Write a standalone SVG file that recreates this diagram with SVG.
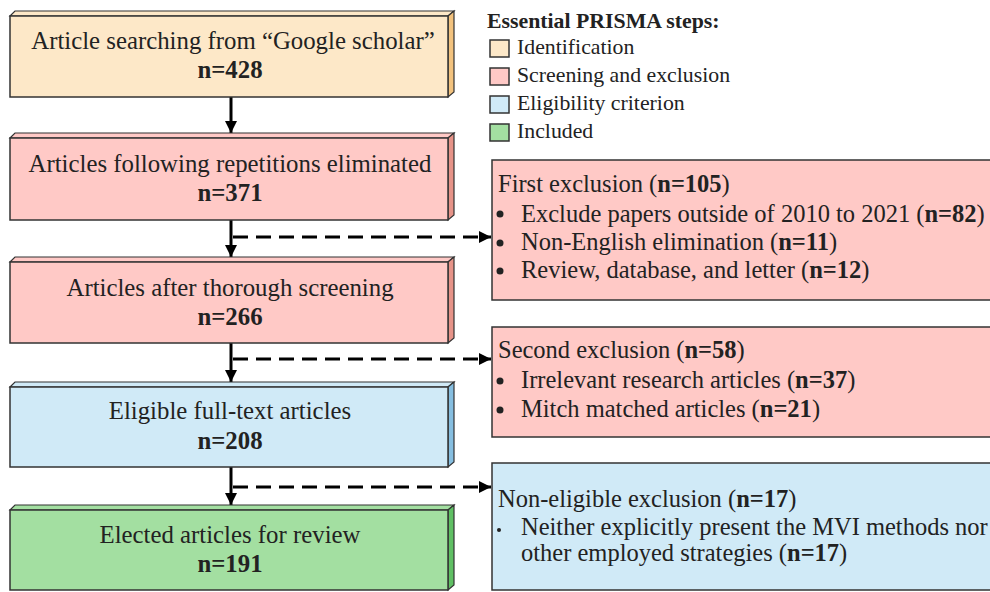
<svg xmlns="http://www.w3.org/2000/svg" width="990" height="592" viewBox="0 0 990 592">
<defs>
<style>
text{font-family:"Liberation Serif","Times New Roman",serif;fill:#222}
.t{font-size:24.8px;text-anchor:middle}
.b{font-weight:bold}
.r{font-size:24.5px}
.l{font-size:21.8px}
.front{stroke:#333;stroke-width:1.5}
.edge{stroke:#333;stroke-width:1.2}
.side{stroke:#333;stroke-width:1.2}
.solid{stroke:#000;stroke-width:3;fill:none}
.dash{stroke:#000;stroke-width:3;fill:none;stroke-dasharray:15 8}
.ident{fill:#FDE8C8}.identS{fill:#F2C27E}
.scr{fill:#FFC9C6}.scrS{fill:#E69388}
.elig{fill:#D0EAF7}.eligS{fill:#86BEE0}
.inc{fill:#A3DFA1}.incS{fill:#5FBF63}
.lg{stroke:#333;stroke-width:1.5}
</style>
<marker id="ah" viewBox="0 0 10 10" refX="10" refY="5" markerWidth="4" markerHeight="4" orient="auto" markerUnits="strokeWidth">
<path d="M0,0 L10,5 L0,10 z" fill="#000"/>
</marker>
</defs>

<g id="connectors">
<line class="solid" x1="231" y1="97" x2="231" y2="133" marker-end="url(#ah)"/>
<line class="solid" x1="231" y1="220" x2="231" y2="257" marker-end="url(#ah)"/>
<line class="solid" x1="231" y1="343" x2="231" y2="382" marker-end="url(#ah)"/>
<line class="solid" x1="231" y1="467" x2="231" y2="505" marker-end="url(#ah)"/>
<line class="dash" x1="233" y1="237" x2="491" y2="237" marker-end="url(#ah)"/>
<line class="dash" x1="233" y1="359" x2="491" y2="359" marker-end="url(#ah)"/>
<line class="dash" x1="233" y1="487" x2="491" y2="487" marker-end="url(#ah)"/>
</g>

<g id="n1">
<path class="ident edge" d="M10,16 L15,11 L454,11 L448,16 Z"/>
<path class="identS side" d="M448,16 L454,11 L454,92 L448,97 Z"/>
<rect class="ident front" x="10" y="16" width="438" height="81"/>
<text class="t" x="233" y="49">Article searching from “Google scholar”</text>
<text class="t b" x="230" y="78">n=428</text>
</g>

<g id="n2">
<path class="scr edge" d="M10,138 L15,133 L454,133 L448,138 Z"/>
<path class="scrS side" d="M448,138 L454,133 L454,215 L448,220 Z"/>
<rect class="scr front" x="10" y="138" width="438" height="82"/>
<text class="t" x="230" y="172">Articles following repetitions eliminated</text>
<text class="t b" x="230" y="201">n=371</text>
</g>

<g id="n3">
<path class="scr edge" d="M10,262 L15,257 L454,257 L448,262 Z"/>
<path class="scrS side" d="M448,262 L454,257 L454,338 L448,343 Z"/>
<rect class="scr front" x="10" y="262" width="438" height="81"/>
<text class="t" x="230" y="296">Articles after thorough screening</text>
<text class="t b" x="230" y="325">n=266</text>
</g>

<g id="n4">
<path class="elig edge" d="M10,387 L15,382 L454,382 L448,387 Z"/>
<path class="eligS side" d="M448,387 L454,382 L454,462 L448,467 Z"/>
<rect class="elig front" x="10" y="387" width="438" height="80"/>
<text class="t" x="230" y="419">Eligible full-text articles</text>
<text class="t b" x="230" y="449">n=208</text>
</g>

<g id="n5">
<path class="inc edge" d="M10,510 L15,505 L454,505 L448,510 Z"/>
<path class="incS side" d="M448,510 L454,505 L454,585 L448,590 Z"/>
<rect class="inc front" x="10" y="510" width="438" height="80"/>
<text class="t" x="230" y="543">Elected articles for review</text>
<text class="t b" x="230" y="572">n=191</text>
</g>

<g id="legend">
<text class="l b" x="487" y="28">Essential PRISMA steps:</text>
<rect class="ident lg" x="490" y="40" width="19" height="17"/>
<text class="l" x="517" y="54">Identification</text>
<rect class="scr lg" x="490" y="68" width="19" height="17"/>
<text class="l" x="517" y="82">Screening and exclusion</text>
<rect class="elig lg" x="490" y="96" width="19" height="17"/>
<text class="l" x="517" y="110">Eligibility criterion</text>
<rect class="inc lg" x="490" y="124" width="19" height="17"/>
<text class="l" x="517" y="138">Included</text>
</g>

<g id="r1">
<rect class="scr front" x="492" y="160" width="510" height="140"/>
<text class="r" x="498" y="192">First exclusion (<tspan class="b">n=105</tspan>)</text>
<circle cx="500" cy="214" r="3.5" fill="#222"/>
<text class="r" x="521" y="222">Exclude papers outside of 2010 to 2021 (<tspan class="b">n=82</tspan>)</text>
<circle cx="500" cy="243" r="3.5" fill="#222"/>
<text class="r" x="521" y="250">Non-English elimination (<tspan class="b">n=11</tspan>)</text>
<circle cx="500" cy="271" r="3.5" fill="#222"/>
<text class="r" x="521" y="278">Review, database, and letter (<tspan class="b">n=12</tspan>)</text>
</g>

<g id="r2">
<rect class="scr front" x="492" y="327" width="510" height="110"/>
<text class="r" x="498" y="358">Second exclusion (<tspan class="b">n=58</tspan>)</text>
<circle cx="500" cy="381" r="3.5" fill="#222"/>
<text class="r" x="521" y="388">Irrelevant research articles (<tspan class="b">n=37</tspan>)</text>
<circle cx="500" cy="410" r="3.5" fill="#222"/>
<text class="r" x="521" y="417">Mitch matched articles (<tspan class="b">n=21</tspan>)</text>
</g>

<g id="r3">
<rect class="elig front" x="492" y="463" width="510" height="127"/>
<text class="r" x="498" y="507">Non-eligible exclusion (<tspan class="b">n=17</tspan>)</text>
<circle cx="499" cy="530" r="2" fill="#222"/>
<text class="r" x="521" y="535">Neither explicitly present the MVI methods nor</text>
<text class="r" x="521" y="561">other employed strategies (<tspan class="b">n=17</tspan>)</text>
</g>
</svg>
